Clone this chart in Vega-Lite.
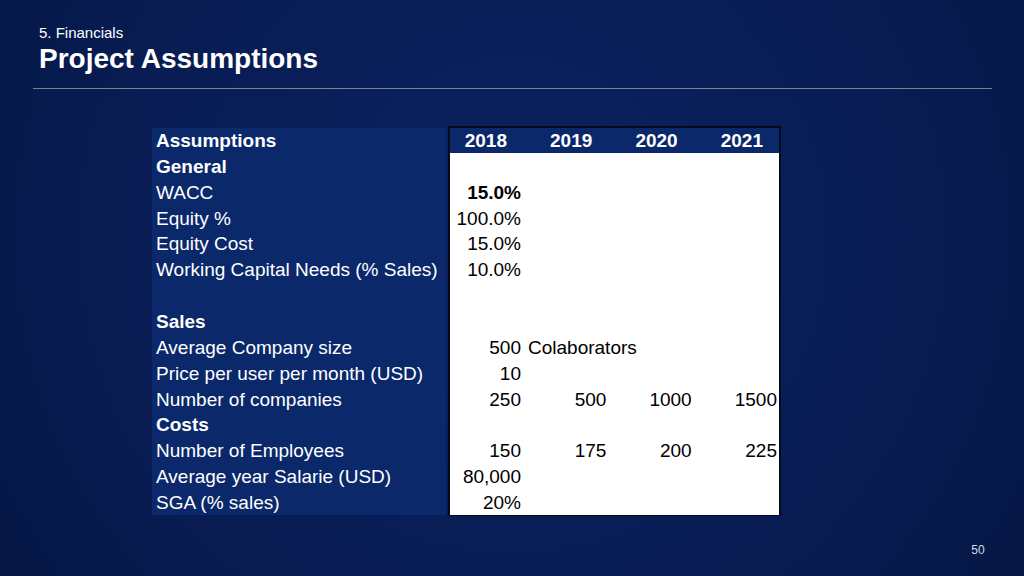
{
  "$schema": "https://vega.github.io/schema/vega-lite/v6.json",
  "width": 1024,
  "height": 576,
  "autosize": {"type": "fit", "contains": "padding"},
  "padding": 0,
  "background": "#061a4a",
  "config": {"view": {"stroke": null}, "text": {"font": "Liberation Sans"}},
  "data": {
    "values": [
      {"row": 0, "col": 0, "kind": "section", "text": "Assumptions"},
      {"row": 1, "col": 0, "kind": "section", "text": "General"},
      {"row": 2, "col": 0, "kind": "item", "text": "WACC"},
      {"row": 3, "col": 0, "kind": "item", "text": "Equity %"},
      {"row": 4, "col": 0, "kind": "item", "text": "Equity Cost"},
      {"row": 5, "col": 0, "kind": "item", "text": "Working Capital Needs (% Sales)"},
      {"row": 7, "col": 0, "kind": "section", "text": "Sales"},
      {"row": 8, "col": 0, "kind": "item", "text": "Average Company size"},
      {"row": 9, "col": 0, "kind": "item", "text": "Price per user per month (USD)"},
      {"row": 10, "col": 0, "kind": "item", "text": "Number of companies"},
      {"row": 11, "col": 0, "kind": "section", "text": "Costs"},
      {"row": 12, "col": 0, "kind": "item", "text": "Number of Employees"},
      {"row": 13, "col": 0, "kind": "item", "text": "Average year Salarie (USD)"},
      {"row": 14, "col": 0, "kind": "item", "text": "SGA (% sales)"},
      {"row": 0, "col": 1, "kind": "header", "text": "2018"},
      {"row": 0, "col": 2, "kind": "header", "text": "2019"},
      {"row": 0, "col": 3, "kind": "header", "text": "2020"},
      {"row": 0, "col": 4, "kind": "header", "text": "2021"},
      {"row": 2, "col": 1, "kind": "keyvalue", "text": "15.0%"},
      {"row": 3, "col": 1, "kind": "value", "text": "100.0%"},
      {"row": 4, "col": 1, "kind": "value", "text": "15.0%"},
      {"row": 5, "col": 1, "kind": "value", "text": "10.0%"},
      {"row": 8, "col": 1, "kind": "value", "text": "500"},
      {"row": 8, "col": 1, "kind": "note", "text": "Colaborators"},
      {"row": 9, "col": 1, "kind": "value", "text": "10"},
      {"row": 10, "col": 1, "kind": "value", "text": "250"},
      {"row": 10, "col": 2, "kind": "value", "text": "500"},
      {"row": 10, "col": 3, "kind": "value", "text": "1000"},
      {"row": 10, "col": 4, "kind": "value", "text": "1500"},
      {"row": 12, "col": 1, "kind": "value", "text": "150"},
      {"row": 12, "col": 2, "kind": "value", "text": "175"},
      {"row": 12, "col": 3, "kind": "value", "text": "200"},
      {"row": 12, "col": 4, "kind": "value", "text": "225"},
      {"row": 13, "col": 1, "kind": "value", "text": "80,000"},
      {"row": 14, "col": 1, "kind": "value", "text": "20%"}
    ]
  },
  "layer": [
    {
      "data": {"values": [{}]},
      "mark": {
        "type": "rect",
        "fill": {"gradient": "radial", "x1": 0.5, "y1": 0.45, "r1": 0, "x2": 0.5, "y2": 0.45, "r2": 0.75,
          "stops": [{"offset": 0, "color": "#0b2260"}, {"offset": 0.55, "color": "#081c52"}, {"offset": 1, "color": "#031239"}]}
      },
      "encoding": {"x": {"value": 0}, "x2": {"value": 1024}, "y": {"value": 0}, "y2": {"value": 576}}
    },
    {
      "data": {"values": [{}]},
      "mark": {"type": "rule", "stroke": "#7d8290", "strokeWidth": 1},
      "encoding": {"x": {"value": 33}, "x2": {"value": 992}, "y": {"value": 88.5}}
    },
    {
      "data": {"values": [{"t": "5. Financials"}]},
      "mark": {"type": "text", "x": 39, "y": 38, "align": "left", "baseline": "alphabetic", "fontSize": 15, "color": "#ffffff"},
      "encoding": {"text": {"field": "t"}}
    },
    {
      "data": {"values": [{"t": "Project Assumptions"}]},
      "mark": {"type": "text", "x": 39, "y": 68, "align": "left", "baseline": "alphabetic", "fontSize": 28, "fontWeight": "bold", "color": "#ffffff"},
      "encoding": {"text": {"field": "t"}}
    },
    {
      "data": {"values": [{"t": "50"}]},
      "mark": {"type": "text", "x": 978, "y": 554, "align": "center", "baseline": "alphabetic", "fontSize": 12, "color": "#d5dbea"},
      "encoding": {"text": {"field": "t"}}
    },
    {
      "data": {"values": [{}]},
      "mark": {"type": "rect", "fill": "#0a286a"},
      "encoding": {"x": {"value": 152}, "x2": {"value": 446}, "y": {"value": 128}, "y2": {"value": 515}}
    },
    {
      "data": {"values": [{}]},
      "mark": {"type": "rect", "fill": "#050a18"},
      "encoding": {"x": {"value": 448}, "x2": {"value": 781}, "y": {"value": 126}, "y2": {"value": 516}}
    },
    {
      "data": {"values": [{}]},
      "mark": {"type": "rect", "fill": "#ffffff"},
      "encoding": {"x": {"value": 450}, "x2": {"value": 779}, "y": {"value": 153}, "y2": {"value": 515}}
    },
    {
      "data": {"values": [{}]},
      "mark": {"type": "rect", "fill": "#0a286a"},
      "encoding": {"x": {"value": 450}, "x2": {"value": 779}, "y": {"value": 128}, "y2": {"value": 153}}
    },
    {
      "transform": [{"filter": "datum.kind === 'section'"}],
      "mark": {"type": "text", "align": "left", "baseline": "middle", "fontSize": 19, "fontWeight": "bold", "color": "#ffffff"},
      "encoding": {
        "x": {"field": "col", "type": "quantitative", "scale": {"domain": [0, 1, 4], "range": [156, 521, 777], "zero": false, "nice": false}, "axis": null},
        "y": {"field": "row", "type": "quantitative", "scale": {"domain": [-5.453, 16.823], "reverse": true, "zero": false, "nice": false}, "axis": null},
        "text": {"field": "text"}
      }
    },
    {
      "transform": [{"filter": "datum.kind === 'item'"}],
      "mark": {"type": "text", "align": "left", "baseline": "middle", "fontSize": 19, "color": "#ffffff"},
      "encoding": {
        "x": {"field": "col", "type": "quantitative"},
        "y": {"field": "row", "type": "quantitative"},
        "text": {"field": "text"}
      }
    },
    {
      "transform": [{"filter": "datum.kind === 'header'"}],
      "mark": {"type": "text", "align": "right", "dx": -14, "baseline": "middle", "fontSize": 19, "fontWeight": "bold", "color": "#ffffff"},
      "encoding": {
        "x": {"field": "col", "type": "quantitative"},
        "y": {"field": "row", "type": "quantitative"},
        "text": {"field": "text"}
      }
    },
    {
      "transform": [{"filter": "datum.kind === 'value'"}],
      "mark": {"type": "text", "align": "right", "baseline": "middle", "fontSize": 19, "color": "#000000"},
      "encoding": {
        "x": {"field": "col", "type": "quantitative"},
        "y": {"field": "row", "type": "quantitative"},
        "text": {"field": "text"}
      }
    },
    {
      "transform": [{"filter": "datum.kind === 'keyvalue'"}],
      "mark": {"type": "text", "align": "right", "baseline": "middle", "fontSize": 19, "fontWeight": "bold", "color": "#000000"},
      "encoding": {
        "x": {"field": "col", "type": "quantitative"},
        "y": {"field": "row", "type": "quantitative"},
        "text": {"field": "text"}
      }
    },
    {
      "transform": [{"filter": "datum.kind === 'note'"}],
      "mark": {"type": "text", "align": "left", "dx": 7, "baseline": "middle", "fontSize": 19, "color": "#000000"},
      "encoding": {
        "x": {"field": "col", "type": "quantitative"},
        "y": {"field": "row", "type": "quantitative"},
        "text": {"field": "text"}
      }
    }
  ]
}
